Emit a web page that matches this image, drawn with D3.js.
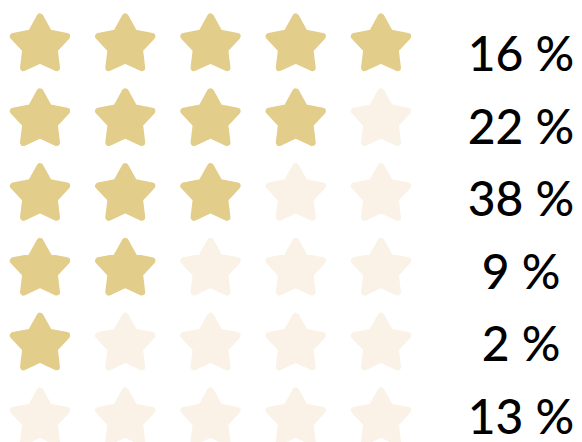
<!DOCTYPE html>
<html>
<head>
<meta charset="utf-8">
<script src="https://cdn.jsdelivr.net/npm/d3@7"></script>
<style>
  html, body { margin: 0; padding: 0; background: #fff; }
  svg { display: block; }
</style>
</head>
<body>
<div id="chart"></div>
<script>
// star rating rows, top to bottom
const ratings = [5, 4, 3, 2, 1, 0];
const shares = [16, 22, 38, 9, 2, 13];
const slots = [1, 2, 3, 4, 5];

const width = 582;
const height = 442;

const svg = d3.select('#chart')
    .append('svg')
    .attr('width', width)
    .attr('height', height);

// star centres
const x = d3.scalePoint()
    .domain(slots)
    .range([40, 381]);

const y = d3.scalePoint()
    .domain(ratings)
    .range([45, 419]);

// label baselines sit on a slightly tighter grid
const yLabel = d3.scalePoint()
    .domain(ratings)
    .range([71, 434]);

// rounded five point star: polygon + round stroke
const outerR = 28;
const innerR = 15;
const starPoints = d3.range(10).map(i => {
    const a = -Math.PI / 2 + i * Math.PI / 5;
    const r = i % 2 === 0 ? outerR : innerR;
    return [r * Math.cos(a), r * Math.sin(a)];
});
const starPath = d3.line().curve(d3.curveLinearClosed)(starPoints);

const rowData = ratings.map((r, i) => ({ rating: r, share: shares[i] }));

const rows = svg.selectAll('.row')
    .data(rowData)
    .enter().append('g')
    .attr('class', 'row')
    .attr('transform', d => `translate(0, ${y(d.rating)})`);

rows.selectAll('.star')
    .data(d => slots.map(s => ({ slot: s, on: s <= d.rating })))
    .enter().append('path')
    .attr('class', 'star')
    .attr('d', starPath)
    .attr('transform', d => `translate(${x(d.slot)}, 0)`)
    .attr('fill', d => d.on ? '#E3CD8A' : '#FAF1E7')
    .attr('stroke', d => d.on ? '#E3CD8A' : '#FAF1E7')
    .attr('stroke-width', 7)
    .attr('stroke-linejoin', 'round');

svg.selectAll('.label')
    .data(rowData)
    .enter().append('text')
    .attr('class', 'label')
    .attr('x', 521)
    .attr('y', d => yLabel(d.rating))
    .attr('text-anchor', 'middle')
    .style('font-family', 'Lato, "Open Sans", sans-serif')
    .style('font-size', '48px')
    .style('font-weight', 500)
    .style('fill', '#000')
    .text(d => `${d.share} %`);
</script>
</body>
</html>
